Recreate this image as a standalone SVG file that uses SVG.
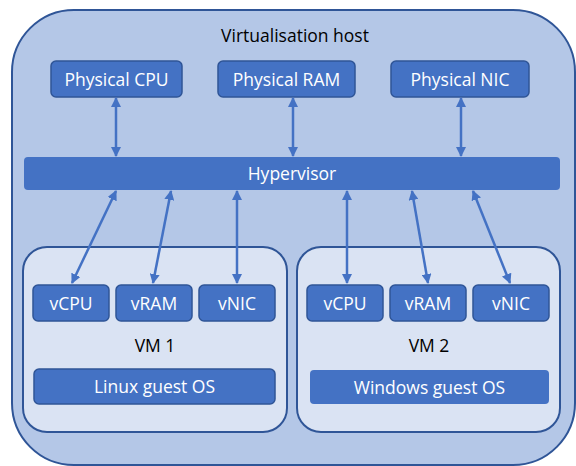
<svg xmlns="http://www.w3.org/2000/svg" width="576" height="466" viewBox="0 0 576 466">
<style>
text{font-family:"Open Sans","Liberation Sans",sans-serif;text-anchor:middle;dominant-baseline:central}
.host{fill:#B4C7E7;stroke:#2F5597;stroke-width:2}
.vm{fill:#DAE3F3;stroke:#2F5597;stroke-width:2}
.box{fill:#4472C4;stroke:#2F5597;stroke-width:1.5}
.bar{fill:#4472C4}
.w{fill:#fff;font-size:17.5px}
.k{fill:#000;font-size:17.5px}
.c{stroke:#4472C4;stroke-width:2.5;fill:none;marker-start:url(#ah);marker-end:url(#ah)}
</style>
<defs>
<marker id="ah" viewBox="0 0 10 10" refX="9" refY="5" markerWidth="4" markerHeight="4" orient="auto-start-reverse" markerUnits="strokeWidth">
<path d="M0,0 L10,5 L0,10 z" fill="#4472C4"/>
</marker>
</defs>
<g id="host">
<rect class="host" x="12" y="10" width="563" height="455" rx="62"/>
<text class="k" x="295" y="35">Virtualisation host</text>
</g>
<g id="pcpu"><rect class="box" x="51" y="61" width="131" height="36" rx="5"/><text class="w" x="116.5" y="78.5">Physical CPU</text></g>
<g id="pram"><rect class="box" x="218" y="61" width="137" height="36" rx="5"/><text class="w" x="286.5" y="78.5">Physical RAM</text></g>
<g id="pnic"><rect class="box" x="391" y="61" width="138" height="36" rx="5"/><text class="w" x="460" y="78.5">Physical NIC</text></g>
<g id="hypervisor"><rect class="bar" x="24" y="157" width="536" height="33" rx="4"/><text class="w" x="292" y="173">Hypervisor</text></g>
<g id="vm1">
<rect class="vm" x="23" y="247" width="264" height="185" rx="24"/>
<text class="k" x="155" y="345">VM 1</text>
</g>
<g id="vm1-vcpu"><rect class="box" x="33" y="285" width="76" height="36" rx="5"/><text class="w" x="71" y="302.5">vCPU</text></g>
<g id="vm1-vram"><rect class="box" x="116" y="285" width="76" height="36" rx="5"/><text class="w" x="154" y="302.5">vRAM</text></g>
<g id="vm1-vnic"><rect class="box" x="199" y="285" width="76" height="36" rx="5"/><text class="w" x="237" y="302.5">vNIC</text></g>
<g id="vm1-os"><rect class="box" x="34" y="369" width="241" height="35" rx="5"/><text class="w" x="154.5" y="386">Linux guest OS</text></g>
<g id="vm2">
<rect class="vm" x="297" y="247" width="263" height="185" rx="24"/>
<text class="k" x="429" y="345">VM 2</text>
</g>
<g id="vm2-vcpu"><rect class="box" x="307" y="285" width="76" height="36" rx="5"/><text class="w" x="345" y="302.5">vCPU</text></g>
<g id="vm2-vram"><rect class="box" x="390" y="285" width="76" height="36" rx="5"/><text class="w" x="428" y="302.5">vRAM</text></g>
<g id="vm2-vnic"><rect class="box" x="473" y="285" width="76" height="36" rx="5"/><text class="w" x="511" y="302.5">vNIC</text></g>
<g id="vm2-os"><rect class="bar" x="310" y="370" width="239" height="34" rx="4"/><text class="w" x="429.5" y="386.5">Windows guest OS</text></g>
<g id="connectors">
<line class="c" x1="116" y1="98" x2="116" y2="156"/>
<line class="c" x1="293" y1="98" x2="293" y2="156"/>
<line class="c" x1="461" y1="98" x2="461" y2="156"/>
<line class="c" x1="116" y1="191" x2="72" y2="283"/>
<line class="c" x1="171" y1="191" x2="153" y2="283"/>
<line class="c" x1="237" y1="191" x2="237" y2="283"/>
<line class="c" x1="347" y1="191" x2="347" y2="283"/>
<line class="c" x1="412" y1="191" x2="428" y2="283"/>
<line class="c" x1="473" y1="191" x2="510" y2="283"/>
</g>
</svg>
